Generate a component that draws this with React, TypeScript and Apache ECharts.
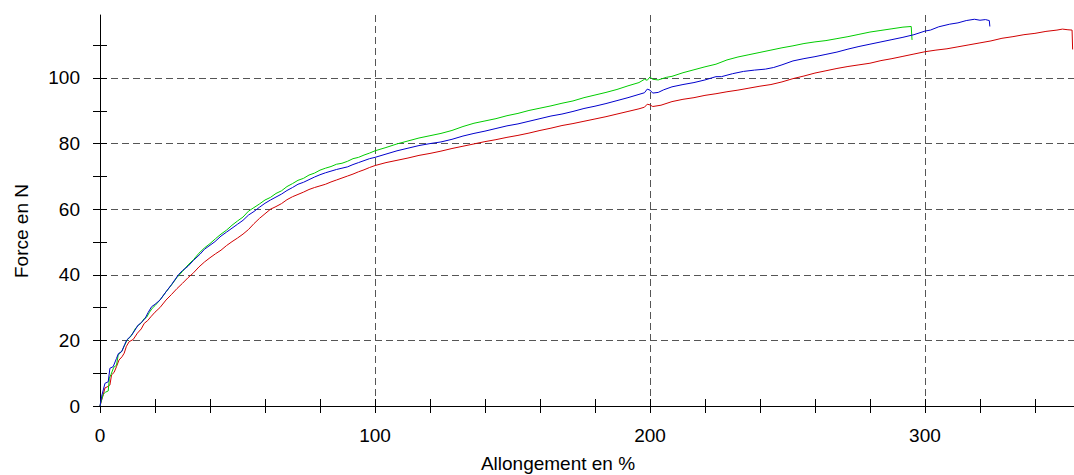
import React, { useEffect, useRef } from "react";
import * as echarts from "echarts";

// ---- data (elongation %, force N) ----
const greenElong = [0,0.6,1.2,2,3,3.4,4,5,6,6.6,8,9,10,11,12,13,14,15,16,17,18,19,20,22,24,26,28,30,32,34,36,38,40,42,44,46,48,50,52,54,56,58,60,62,64,66,68,70,72,74,76,78,80,82,84,86,88,90,92,94,96,98,100,104,108,112,116,120,124,128,132,136,140,144,148,152,156,160,164,168,172,176,180,184,188,192,196,198,199,200,201,203,206,208,212,216,220,224,228,232,236,240,244,248,252,256,260,264,268,272,276,280,284,288,292,295,295.3];
const greenForce = [0,2,3.6,4.2,4.6,8.5,9.6,11.8,12.4,15.5,16.8,18.6,20.3,21,22.3,23.8,24.6,25.3,26.6,27.1,28.6,29.8,30.6,32.5,34.8,36.9,39.2,41,43,44.6,46.6,48.2,49.5,51,52.4,53.6,55.1,56.4,57.6,59.4,60.5,61.6,62.8,63.6,64.8,65.6,66.9,67.8,68.8,69.4,70.4,71,71.9,72.5,73,73.7,74,74.6,75.4,75.8,76.5,77.1,77.8,78.8,79.9,80.8,81.7,82.4,83.1,84,85.2,86.2,86.9,87.6,88.5,89.2,90.1,90.8,91.5,92.3,93,94,94.8,95.6,96.5,97.6,98.6,99.6,99.3,100.3,99.6,99.4,100.2,100.5,101.6,102.5,103.4,104.2,105.5,106.4,107.1,107.8,108.5,109.2,109.8,110.5,111,111.4,112,112.6,113.3,114,114.5,115,115.5,115.7,111.6];

const blueElong = [0,0.6,1.2,1.8,3,3.6,4.8,6,6.7,7.9,9,9.7,11.5,13,13.9,15,16.4,17.5,18.8,20,21.8,24,26,28.5,30,32,34,36.4,38,40,41.8,44,46,48,50,52,54,56,58,60,62,64,66,68,70,72,74,76,78,80,82,84,86,88,90,92,94,96,98,100,104,108,112,116,120,124,128,132,136,140,144,148,152,156,160,164,168,172,176,180,184,188,192,196,198,199,200,201,203,205,208,212,216,220,224,226,230,234,238,242,245,248,252,256,260,264,268,272,276,280,284,288,292,296,300,302,305,309,312,315,318,320,322,323.4,323.6];
const blueForce = [0,3,4.9,6.9,7.4,11.5,12,14.5,16,16.6,18.8,20.1,21.6,23.5,24.7,25.4,26.7,28.5,30.3,31,32.3,34.8,37,40,41.3,42.6,44.4,46.3,47.8,49,50.1,51.8,53,54.2,55.4,56.6,58.2,59.3,60.6,61.8,62.8,63.7,64.6,65.7,66.6,67.6,68.2,69,69.8,70.5,71.1,71.6,72.1,72.5,72.9,73.6,74.2,74.8,75.4,75.8,76.8,77.8,78.6,79.4,80,80.5,81.3,82.3,83.1,83.8,84.6,85.4,86,86.8,87.6,88.4,89,89.8,90.7,91.4,92.2,93.1,94,95,95.5,96.6,96.3,95.4,95.6,96.4,97.3,98,98.6,99.4,100.4,100.4,101.3,102,102.4,102.7,103.2,104,105.2,105.9,106.5,107.2,107.9,108.8,109.6,110.3,111,111.7,112.4,113.2,114.3,114.6,115.6,116.4,116.8,117.5,117.9,117.6,117.8,117.5,115.7];

const redElong = [0,0.6,1.2,1.8,3,3.6,4.2,5.1,6,6.9,8,8.8,9.6,10.6,12.1,13.6,15,16.1,17.3,18.5,20,21.8,24,26,28,30,32,34,36,38,40,42,44,46,48,50,52,54,56,58,60,62,64,66,68,70,72,74,76,78,80,82,84,86,88,90,92,94,96,98,100,104,108,112,116,120,124,128,132,136,140,144,148,152,156,160,164,168,172,176,180,184,188,192,196,198,199,200,201,204,208,212,216,220,224,228,232,236,240,244,248,252,256,260,264,268,272,276,280,284,288,292,296,300,304,308,312,316,320,324,328,332,336,340,344,348,350,352,353.5,353.7];
const redForce = [0,1.8,3.5,5.5,6,6.4,9.5,10.2,12,14,15,16.1,18.2,19.6,20.3,22.2,23.5,25.2,26,27.2,28.6,30,32.3,34,35.8,37.4,39.1,40.6,42.4,43.9,45.2,46.4,47.5,48.9,50.1,51.2,52.4,53.8,55.6,57.2,58.6,60,60.8,61.7,62.9,63.8,64.5,65.2,66,66.6,67.1,67.6,68.3,68.9,69.5,70.1,70.7,71.4,72,72.7,73.3,74.2,74.9,75.6,76.4,77,77.7,78.5,79.2,79.9,80.6,81.2,81.9,82.5,83.2,84,84.7,85.5,86.1,86.8,87.5,88.2,89,89.8,90.6,91.1,92,91.8,91.3,91.7,92.8,93.5,94,94.7,95.2,95.8,96.3,96.9,97.5,98,98.8,99.8,100.6,101.5,102.2,102.9,103.5,104,104.5,105.3,105.9,106.6,107.3,108,108.5,108.9,109.5,110.1,110.7,111.3,112.1,112.6,113.2,113.6,114.2,114.6,114.9,114.7,114.6,108.7];

const xLabelValues = [0, 100, 200, 300];
const xTickValues = [0,20,40,60,80,100,120,140,160,180,200,220,240,260,280,300,320,340];
const yLabelValues = [0, 20, 40, 60, 80, 100];
const yTickValues = [0,10,20,30,40,50,60,70,80,90,100,110];

const xTitle = "Allongement en %";
const yTitle = "Force en N";

const FONT = "Liberation Sans, Arial, sans-serif";
const FS = 19;

const pairs = (xs: number[], ys: number[]) => xs.map((x, i) => [x, ys[i]]);

export default function App() {
  const ref = useRef<HTMLDivElement>(null);
  useEffect(() => {
    if (!ref.current) return;
    const chart = echarts.init(ref.current, undefined, { renderer: "svg" });
    const X_MAX = 354.2;
    const Y_MAX = 119.2;
    const baseX = { type: "value", min: 0, max: X_MAX, interval: 100, position: "bottom" };
    const baseY = { type: "value", min: 0, max: Y_MAX, interval: 20, position: "left" };
    const dash = { color: "#555", width: 1, type: [7, 4] };
    const tickAxisX = (inside: boolean) => ({
      ...baseX,
      axisLine: { show: false, onZero: false },
      axisTick: { show: true, inside, length: 7, customValues: xTickValues, lineStyle: { color: "#000" } },
      axisLabel: { show: false },
      splitLine: { show: false },
    });
    const tickAxisY = (inside: boolean) => ({
      ...baseY,
      axisLine: { show: false, onZero: false },
      axisTick: { show: true, inside, length: 7, customValues: yTickValues, lineStyle: { color: "#000" } },
      axisLabel: { show: false },
      splitLine: { show: false },
    });
    chart.setOption({
      animation: false,
      grid: { left: 100, right: 0, top: 15, bottom: 69, containLabel: false },
      xAxis: [
        {
          ...baseX,
          axisLine: { show: true, onZero: false, lineStyle: { color: "#000", width: 1 } },
          axisTick: { show: false },
          axisLabel: { show: true, customValues: xLabelValues, margin: 20, color: "#000", fontFamily: FONT, fontSize: FS },
          splitLine: { show: true, showMinLine: false, showMaxLine: false, lineStyle: dash },
        },
        tickAxisX(false),
        tickAxisX(true),
      ],
      yAxis: [
        {
          ...baseY,
          axisLine: { show: true, onZero: false, lineStyle: { color: "#000", width: 1 } },
          axisTick: { show: false },
          axisLabel: { show: true, customValues: yLabelValues, margin: 20, color: "#000", fontFamily: FONT, fontSize: FS },
          splitLine: { show: true, showMinLine: false, showMaxLine: false, lineStyle: dash },
        },
        tickAxisY(false),
        tickAxisY(true),
      ],
      graphic: [
        {
          type: "text",
          x: 558,
          y: 463,
          style: { text: xTitle, fill: "#000", font: `${FS}px ${FONT}`, textAlign: "center", textVerticalAlign: "middle" },
        },
        {
          type: "text",
          x: 21,
          y: 231,
          rotation: Math.PI / 2,
          style: { text: yTitle, fill: "#000", font: `${FS}px ${FONT}`, textAlign: "center", textVerticalAlign: "middle" },
        },
      ],
      series: [
        {
          type: "line",
          name: "red",
          data: pairs(redElong, redForce),
          showSymbol: false,
          symbol: "none",
          lineStyle: { color: "#d00000", width: 1 },
          z: 3,
        },
        {
          type: "line",
          name: "green",
          data: pairs(greenElong, greenForce),
          showSymbol: false,
          symbol: "none",
          lineStyle: { color: "#00cc00", width: 1 },
          z: 4,
        },
        {
          type: "line",
          name: "blue",
          data: pairs(blueElong, blueForce),
          showSymbol: false,
          symbol: "none",
          lineStyle: { color: "#0000cc", width: 1 },
          z: 5,
        },
      ],
    });
    return () => chart.dispose();
  }, []);
  return (
    <div
      ref={ref}
      style={{ position: "fixed", left: 0, top: 0, width: 1074, height: 475, background: "#fff" }}
    />
  );
}
